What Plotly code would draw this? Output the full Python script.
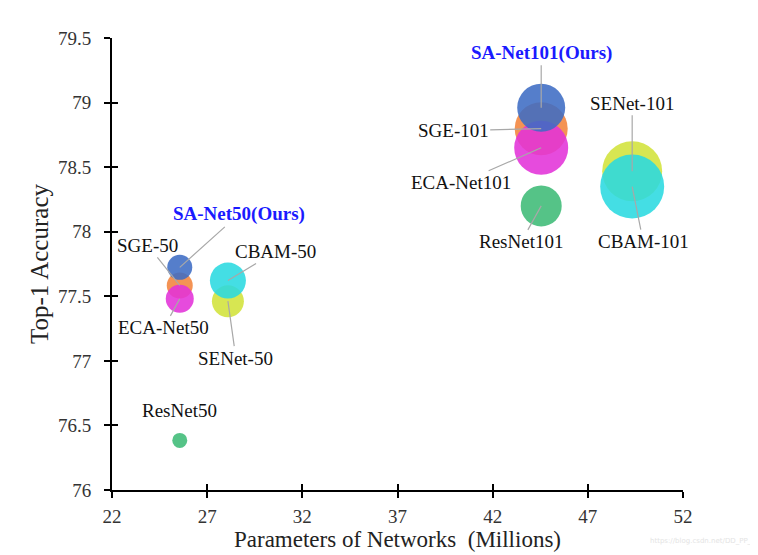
import plotly.graph_objects as go

names = ["ResNet50", "SENet-50", "CBAM-50", "SGE-50", "ECA-Net50", "SA-Net50(Ours)",
         "ResNet101", "SENet-101", "CBAM-101", "SGE-101", "ECA-Net101", "SA-Net101(Ours)"]
params = [25.56, 28.09, 28.09, 25.56, 25.56, 25.56,
          44.55, 49.33, 49.33, 44.55, 44.55, 44.55]
top1 = [76.384, 77.462, 77.622, 77.584, 77.48, 77.724,
        78.20, 78.468, 78.35, 78.798, 78.65, 78.96]
diam = [15, 32, 36, 26, 28, 25,
        41, 60, 64, 53, 54, 48]
colors = ["#3dbb76", "#d2e23a", "#2ad9e0", "#f2843c", "#e332d8", "#3e6cc4",
          "#3dbb76", "#d2e23a", "#2ad9e0", "#f2843c", "#e332d8", "#3e6cc4"]
# label offsets (pixels) of label centre relative to bubble centre
label_dx = [0, 8, 48, -32, -16, 59, -20, 0, 11, -88, -80, 0]
label_dy = [-30, 57, -29, -40, 29, -53, 36, -68, 55, 2, 35, -55]
label_arrow = [False, True, True, True, True, True, True, True, True, True, True, True]

xticks = [22, 27, 32, 37, 42, 47, 52]
yticks = [76, 76.5, 77, 77.5, 78, 78.5, 79, 79.5]
ytick_text = ["76", "76.5", "77", "77.5", "78", "78.5", "79", "79.5"]

FONT = "Liberation Serif, Times New Roman, serif"

fig = go.Figure()
fig.add_trace(go.Scatter(
    x=params, y=top1, mode="markers",
    marker=dict(size=diam, color=colors, opacity=0.88, line=dict(width=0)),
    hoverinfo="text", text=names, showlegend=False))
# invisible trace to hold the overlay axes (crossing ticks)
fig.add_trace(go.Scatter(x=params, y=top1, mode="markers", xaxis="x2", yaxis="y2",
                         marker=dict(opacity=0), hoverinfo="skip", showlegend=False))

for n, x, y, dx, dy, arr in zip(names, params, top1, label_dx, label_dy, label_arrow):
    ours = "Ours" in n
    fig.add_annotation(
        x=x, y=y, ax=dx, ay=dy, axref="pixel", ayref="pixel",
        text=f"<b>{n}</b>" if ours else n,
        showarrow=True, arrowhead=0, arrowwidth=1.2,
        arrowcolor="#a8a8a8" if arr else "rgba(0,0,0,0)",
        standoff=0, startstandoff=0,
        font=dict(family=FONT, size=19,
                  color="#1a1aff" if ours else "#111111"))

fig.add_annotation(x=1.035, y=-0.113, xref="paper", yref="paper", showarrow=False,
                   xanchor="center", yanchor="middle",
                   text="https://blog.csdn.net/DD_PP_JJ",
                   font=dict(family="DejaVu Sans", size=7, color="#e4e4e4"))

axis_common = dict(showgrid=False, zeroline=False, showline=True, linecolor="black",
                   linewidth=2, ticks="outside", ticklen=6, tickwidth=2, tickcolor="black",
                   automargin=False,
                   tickfont=dict(family=FONT, size=19, color="#333333"))

fig.update_layout(
    width=750, height=547,
    margin=dict(l=104, r=75, t=30, b=65),
    paper_bgcolor="white", plot_bgcolor="white",
    xaxis=dict(range=[22, 52], tickvals=xticks, **axis_common,
               ticklabelstandoff=2,
               title=dict(text="Parameters of Networks  (Millions)", standoff=2,
                          font=dict(family=FONT, size=23, color="#222222"))),
    yaxis=dict(range=[76, 79.5], tickvals=yticks, ticktext=ytick_text, **axis_common,
               ticklabelstandoff=9,
               title=dict(text="Top-1 Accuracy", standoff=2,
                          font=dict(family=FONT, size=25, color="#222222"))),
    xaxis2=dict(range=[22, 52], overlaying="x", tickvals=xticks, showticklabels=False,
                ticks="inside", ticklen=6, tickwidth=2, tickcolor="black",
                showgrid=False, zeroline=False, showline=False),
    yaxis2=dict(range=[76, 79.5], overlaying="y", tickvals=yticks, showticklabels=False,
                ticks="inside", ticklen=6, tickwidth=2, tickcolor="black",
                showgrid=False, zeroline=False, showline=False),
)

fig.write_html("out.html")
